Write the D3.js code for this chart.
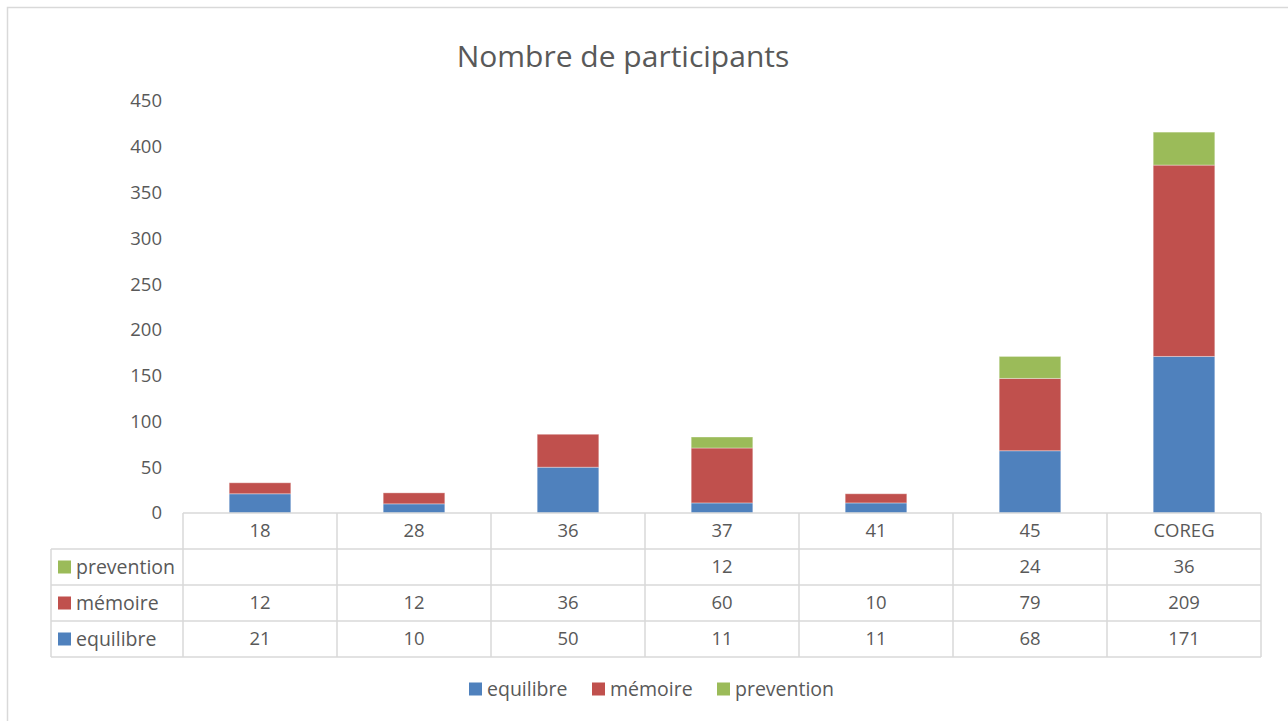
<!DOCTYPE html>
<html>
<head>
<meta charset="utf-8">
<script src="https://cdn.jsdelivr.net/npm/d3@7"></script>
<style>
  body { margin: 0; background: #fff; }
  svg { display: block; font-family: 'Open Sans', sans-serif; }
</style>
</head>
<body>
<div class="chart"></div>
<script>
const categories = ['18', '28', '36', '37', '41', '45', 'COREG']
const seriesNames = ['equilibre', 'mémoire', 'prevention']
const equilibre = [21, 10, 50, 11, 11, 68, 171]
const memoire = [12, 12, 36, 60, 10, 79, 209]
const prevention = [null, null, null, 12, null, 24, 36]
const yTicks = [0, 50, 100, 150, 200, 250, 300, 350, 400, 450]
const colors = ['#4f81bd', '#c0504d', '#9bbb59']

const WIDTH = 1288
const HEIGHT = 721
const margin = { top: 101, left: 183, right: 27, bottom: 208 }
const plotW = WIDTH - margin.left - margin.right
const plotH = HEIGHT - margin.top - margin.bottom
const rowH = 36
const textColor = '#595959'
const gridColor = '#d9d9d9'

const values = [equilibre, memoire, prevention]
const rows = categories.map((c, i) => {
  const r = { cat: c }
  seriesNames.forEach((s, k) => { r[s] = values[k][i] || 0 })
  return r
})
const stacked = d3.stack().keys(seriesNames)(rows)

const svg = d3
  .select('.chart')
  .append('svg')
  .attr('width', WIDTH)
  .attr('height', HEIGHT)

// chart frame
svg
  .append('rect')
  .attr('x', 7.5)
  .attr('y', 7.5)
  .attr('width', WIDTH + 10)
  .attr('height', HEIGHT + 10)
  .attr('fill', 'none')
  .attr('stroke', gridColor)
  .attr('stroke-width', 1.5)

svg
  .append('text')
  .attr('x', 623)
  .attr('y', 67)
  .attr('text-anchor', 'middle')
  .attr('font-size', 30)
  .attr('fill', textColor)
  .text('Nombre de participants')

const x = d3.scaleBand().domain(categories).range([0, plotW]).paddingInner(0.6).paddingOuter(0.3)
const colX = d3.scaleBand().domain(categories).range([0, plotW])
const y = d3.scaleLinear().domain([0, 450]).range([plotH, 0])

const g = svg.append('g').attr('transform', `translate(${margin.left},${margin.top})`)

// y axis labels
const yAxis = g
  .append('g')
  .call(d3.axisLeft(y).tickValues(yTicks).tickSize(0).tickPadding(21))
yAxis.select('.domain').remove()
yAxis
  .selectAll('text')
  .attr('font-family', 'Open Sans, sans-serif')
  .attr('font-size', 18.5)
  .attr('fill', textColor)

// bars
g.selectAll('.series')
  .data(stacked)
  .enter()
  .append('g')
  .attr('class', 'series')
  .attr('fill', (d, i) => colors[i])
  .selectAll('rect')
  .data(d => d.filter(p => p[1] - p[0] > 0))
  .enter()
  .append('rect')
  .attr('x', d => x(d.data.cat))
  .attr('width', x.bandwidth())
  .attr('y', d => y(d[1]))
  .attr('height', d => y(d[0]) - y(d[1]))
  .attr('stroke', '#fff')
  .attr('stroke-opacity', 0.35)
  .attr('stroke-width', 1)

// data table
const table = svg.append('g').attr('transform', `translate(0,${margin.top + plotH})`)
const tableLeft = 51
const tableRows = [
  { name: 'prevention', vals: prevention, color: colors[2] },
  { name: 'mémoire', vals: memoire, color: colors[1] },
  { name: 'equilibre', vals: equilibre, color: colors[0] },
]

const lines = table.append('g').attr('stroke', gridColor).attr('stroke-width', 1.5)
lines.append('line').attr('x1', margin.left).attr('x2', margin.left + plotW).attr('y1', 0).attr('y2', 0)
lines.append('line').attr('x1', tableLeft).attr('x2', margin.left + plotW).attr('y1', rowH).attr('y2', rowH)
tableRows.forEach((r, i) => {
  lines
    .append('line')
    .attr('x1', tableLeft)
    .attr('x2', margin.left + plotW)
    .attr('y1', rowH * (i + 2))
    .attr('y2', rowH * (i + 2))
})
lines.append('line').attr('x1', tableLeft).attr('x2', tableLeft).attr('y1', rowH).attr('y2', rowH * 4)
categories.concat(['end']).forEach((c, i) => {
  const xx = margin.left + colX.step() * i
  lines.append('line').attr('x1', xx).attr('x2', xx).attr('y1', 0).attr('y2', rowH * 4)
})

table
  .selectAll('.head')
  .data(categories)
  .enter()
  .append('text')
  .attr('x', d => margin.left + colX(d) + colX.bandwidth() / 2)
  .attr('y', rowH / 2)
  .attr('dy', '0.35em')
  .attr('text-anchor', 'middle')
  .attr('font-size', 18.5)
  .attr('fill', textColor)
  .text(d => d)

tableRows.forEach((r, i) => {
  const ry = rowH * (i + 1)
  table
    .append('rect')
    .attr('x', 58)
    .attr('y', ry + rowH / 2 - 6.5)
    .attr('width', 13)
    .attr('height', 13)
    .attr('fill', r.color)
  table
    .append('text')
    .attr('x', 76)
    .attr('y', ry + rowH / 2)
    .attr('dy', '0.35em')
    .attr('font-size', 19.5)
    .attr('fill', textColor)
    .text(r.name)
  table
    .selectAll(null)
    .data(r.vals)
    .enter()
    .append('text')
    .attr('x', (d, j) => margin.left + colX(categories[j]) + colX.bandwidth() / 2)
    .attr('y', ry + rowH / 2)
    .attr('dy', '0.35em')
    .attr('text-anchor', 'middle')
    .attr('font-size', 18.5)
    .attr('fill', textColor)
    .text(d => (d == null ? '' : d))
})

// legend
const legendItems = [
  { name: 'equilibre', color: colors[0], x: 469 },
  { name: 'mémoire', color: colors[1], x: 592 },
  { name: 'prevention', color: colors[2], x: 717 },
]
const legend = svg.append('g').attr('transform', 'translate(0,689)')
legendItems.forEach(l => {
  legend
    .append('rect')
    .attr('x', l.x)
    .attr('y', -6.5)
    .attr('width', 13)
    .attr('height', 13)
    .attr('fill', l.color)
  legend
    .append('text')
    .attr('x', l.x + 18)
    .attr('y', 0)
    .attr('dy', '0.35em')
    .attr('font-size', 19.5)
    .attr('fill', textColor)
    .text(l.name)
})
</script>
</body>
</html>
